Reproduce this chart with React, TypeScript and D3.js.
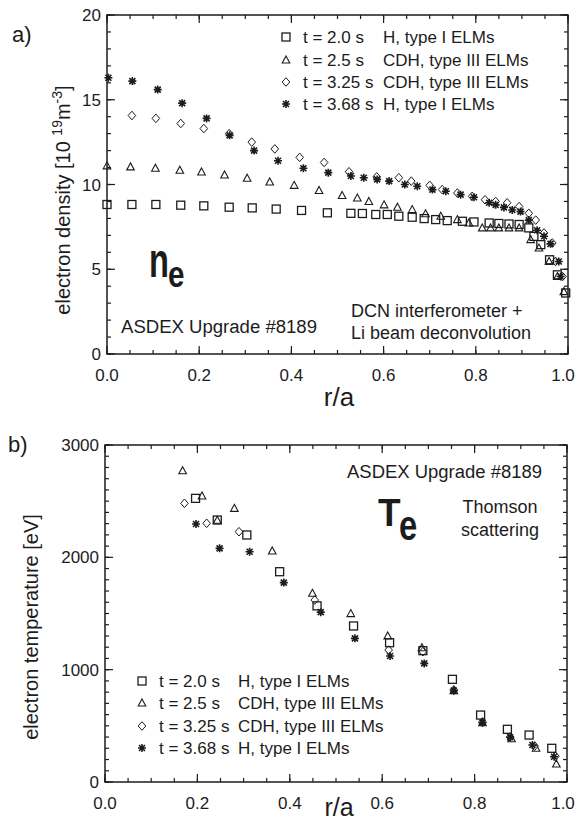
import React from 'react';
import * as d3 from 'd3';

const FONT = '"Liberation Sans", Arial, Helvetica, sans-serif';
const INK = '#1c1c1c';

// legend
const legendTimes = ['t = 2.0 s', 't = 2.5 s', 't = 3.25 s', 't = 3.68 s'];
const legendModes = ['H, type I ELMs', 'CDH, type III ELMs', 'CDH, type III ELMs', 'H, type I ELMs'];
const seriesShapes = ['square', 'triangle', 'diamond', 'star'];

// axis ticks
const xMajor = [0, 0.2, 0.4, 0.6, 0.8, 1.0];
const xTickLabels = ['0.0', '0.2', '0.4', '0.6', '0.8', '1.0'];
const neMajor = [0, 5, 10, 15, 20];
const teMajor = [0, 1000, 2000, 3000];

// panel a: electron density [1e19 m^-3]
const neR_t20 = [0.0, 0.054, 0.106, 0.16, 0.21, 0.265, 0.315, 0.367, 0.422, 0.478, 0.529, 0.554, 0.583, 0.608, 0.633, 0.662, 0.688, 0.713, 0.738, 0.771, 0.796, 0.829, 0.85, 0.872, 0.894, 0.915, 0.926, 0.941, 0.96, 0.977, 0.995];
const ne_t20 = [8.82, 8.82, 8.82, 8.78, 8.74, 8.66, 8.62, 8.55, 8.47, 8.33, 8.30, 8.29, 8.23, 8.23, 8.13, 8.07, 7.99, 7.93, 7.87, 7.83, 7.79, 7.73, 7.70, 7.67, 7.64, 7.44, 6.94, 6.45, 5.56, 4.67, 3.6];

const neR_t25 = [0.0, 0.051, 0.105, 0.158, 0.205, 0.255, 0.304, 0.353, 0.406, 0.46, 0.51, 0.543, 0.568, 0.601, 0.63, 0.662, 0.691, 0.724, 0.76, 0.785, 0.814, 0.832, 0.85, 0.872, 0.894, 0.919, 0.937, 0.959, 0.977, 0.991];
const ne_t25 = [11.1, 11.04, 10.96, 10.84, 10.74, 10.56, 10.37, 10.15, 9.95, 9.65, 9.35, 9.2, 9.0, 8.8, 8.66, 8.52, 8.27, 8.13, 7.93, 7.73, 7.44, 7.44, 7.44, 7.44, 7.44, 6.75, 6.25, 5.46, 4.57, 3.68];

const neR_t325 = [0.054, 0.106, 0.16, 0.21, 0.265, 0.314, 0.364, 0.418, 0.471, 0.525, 0.585, 0.633, 0.66, 0.70, 0.727, 0.76, 0.792, 0.82, 0.843, 0.868, 0.894, 0.915, 0.93, 0.948, 0.966, 0.973, 0.988];
const ne_t325 = [14.07, 13.9, 13.6, 13.3, 13.0, 12.5, 12.1, 11.6, 11.3, 10.75, 10.45, 10.4, 10.2, 9.95, 9.7, 9.5, 9.3, 9.1, 9.0, 8.92, 8.7, 8.3, 7.9, 7.14, 6.55, 5.46, 4.57];

const neR_t368 = [0.003, 0.055, 0.11, 0.163, 0.216, 0.266, 0.319, 0.371, 0.426, 0.48, 0.529, 0.557, 0.586, 0.612, 0.646, 0.673, 0.706, 0.735, 0.767, 0.796, 0.829, 0.843, 0.861, 0.879, 0.897, 0.915, 0.933, 0.948, 0.962, 0.98, 0.984];
const ne_t368 = [16.3, 16.1, 15.6, 14.8, 13.9, 12.9, 12.0, 11.4, 10.96, 10.7, 10.5, 10.4, 10.3, 10.2, 10.0, 9.9, 9.7, 9.6, 9.4, 9.25, 8.92, 8.8, 8.65, 8.5, 8.4, 7.9, 7.3, 6.95, 6.5, 5.46, 4.57];

// panel b: electron temperature [eV]
const teR_t20 = [0.196, 0.243, 0.307, 0.378, 0.459, 0.538, 0.616, 0.688, 0.752, 0.813, 0.871, 0.918, 0.967];
const te_t20 = [2525, 2332, 2199, 1872, 1568, 1389, 1240, 1169, 914, 596, 469, 418, 300];

const teR_t25 = [0.168, 0.21, 0.243, 0.28, 0.362, 0.449, 0.532, 0.612, 0.686, 0.755, 0.817, 0.88, 0.933, 0.977];
const te_t25 = [2771, 2546, 2330, 2436, 2057, 1680, 1499, 1300, 1195, 813, 528, 385, 300, 160];

const teR_t325 = [0.172, 0.22, 0.29, 0.454, 0.614, 0.688, 0.755, 0.817, 0.877, 0.93, 0.975];
const te_t325 = [2481, 2303, 2228, 1620, 1175, 1160, 820, 535, 400, 320, 230];

const teR_t368 = [0.197, 0.248, 0.313, 0.387, 0.467, 0.541, 0.617, 0.691, 0.755, 0.817, 0.877, 0.925, 0.972];
const te_t368 = [2297, 2080, 2050, 1775, 1512, 1279, 1122, 1056, 813, 528, 398, 329, 225];

const neSeries = [
  { r: neR_t20, v: ne_t20 },
  { r: neR_t25, v: ne_t25 },
  { r: neR_t325, v: ne_t325 },
  { r: neR_t368, v: ne_t368 },
];
const teSeries = [
  { r: teR_t20, v: te_t20 },
  { r: teR_t25, v: te_t25 },
  { r: teR_t325, v: te_t325 },
  { r: teR_t368, v: te_t368 },
];

function Marker({ shape, x, y }: { shape: string; x: number; y: number }) {
  const common = { fill: 'none', stroke: INK, strokeWidth: 1.3 };
  if (shape === 'square') return <rect x={x - 4} y={y - 4} width={8} height={8} {...common} />;
  if (shape === 'triangle')
    return <path d={`M${x},${y - 4} L${x + 3.8},${y + 3} L${x - 3.8},${y + 3} Z`} {...common} strokeWidth={1.1} />;
  if (shape === 'diamond')
    return <path d={`M${x},${y - 4.3} L${x + 3.8},${y} L${x},${y + 4.3} L${x - 3.8},${y} Z`} {...common} strokeWidth={1.0} />;
  const s = 4;
  const d = s * 0.75;
  return (
    <path
      d={`M${x},${y - s} L${x},${y + s} M${x - d},${y - d} L${x + d},${y + d} M${x - d},${y + d} L${x + d},${y - d} M${x - s},${y} L${x + s},${y}`}
      stroke={INK}
      strokeWidth={1.6}
      fill="none"
    />
  );
}

function Frame({ xs, ys, yMajor, yMinorStep, yFmt }: any) {
  const [x0, x1] = xs.range();
  const [yb, yt] = ys.range();
  const xMinor = d3.range(0, 1.0001, 0.05);
  const yDom = ys.domain();
  const yMinor = d3.range(yDom[0], yDom[1] + 1e-6, yMinorStep);
  const ML = 8, mL = 4;
  const els: any[] = [];
  xMinor.forEach((t, i) => {
    const X = xs(t);
    els.push(<line key={'xb' + i} x1={X} x2={X} y1={yb} y2={yb - mL} />);
    els.push(<line key={'xt' + i} x1={X} x2={X} y1={yt} y2={yt + mL} />);
  });
  xMajor.forEach((t, i) => {
    const X = xs(t);
    els.push(<line key={'Xb' + i} x1={X} x2={X} y1={yb} y2={yb - ML} />);
    els.push(<line key={'Xt' + i} x1={X} x2={X} y1={yt} y2={yt + ML} />);
  });
  yMinor.forEach((t, i) => {
    const Y = ys(t);
    els.push(<line key={'yl' + i} x1={x0} x2={x0 + mL} y1={Y} y2={Y} />);
    els.push(<line key={'yr' + i} x1={x1} x2={x1 - mL} y1={Y} y2={Y} />);
  });
  yMajor.forEach((t: number, i: number) => {
    const Y = ys(t);
    els.push(<line key={'Yl' + i} x1={x0} x2={x0 + ML} y1={Y} y2={Y} />);
    els.push(<line key={'Yr' + i} x1={x1} x2={x1 - ML} y1={Y} y2={Y} />);
  });
  return (
    <g>
      <g stroke={INK} strokeWidth={1.2}>{els}</g>
      <rect x={x0} y={yt} width={x1 - x0} height={yb - yt} fill="none" stroke={INK} strokeWidth={1.5} />
      <g fontFamily={FONT} fontSize={17} fill={INK}>
        {xMajor.map((t, i) => (
          <text key={'xl' + i} x={Math.min(xs(t), 563)} y={yb + 27} textAnchor="middle">
            {xTickLabels[i]}
          </text>
        ))}
        {yMajor.map((t: number, i: number) => (
          <text key={'yl' + i} x={x0 - 6} y={ys(t) + 6} textAnchor="end">
            {yFmt(t)}
          </text>
        ))}
      </g>
    </g>
  );
}

function Legend({ mx, tx, dx, ys }: { mx: number; tx: number; dx: number; ys: number[] }) {
  return (
    <g fontFamily={FONT} fontSize={17} fill={INK}>
      {legendTimes.map((t, i) => (
        <g key={i}>
          <Marker shape={seriesShapes[i]} x={mx} y={ys[i]} />
          <text x={tx} y={ys[i] + 6}>{t}</text>
          <text x={dx} y={ys[i] + 6}>{legendModes[i]}</text>
        </g>
      ))}
    </g>
  );
}

export default function App() {
  const xa = d3.scaleLinear().domain([0, 1]).range([107, 568]);
  const ya = d3.scaleLinear().domain([0, 20]).range([354, 15]);
  const xb = d3.scaleLinear().domain([0, 1]).range([105, 567]);
  const yb = d3.scaleLinear().domain([0, 3000]).range([782, 445]);

  return (
    <svg width={577} height={824} style={{ position: 'absolute', left: 0, top: 0, background: '#fff' }}>
      <rect x={0} y={0} width={577} height={824} fill="#fff" />
      {/* Panel a */}
      <text x={12} y={42} fontFamily={FONT} fontSize={22} fill={INK}>a)</text>
      <text
        transform="translate(70,200) rotate(-90)"
        textAnchor="middle"
        fontFamily={FONT}
        fontSize={20}
        fill={INK}
      >
        electron density [10 <tspan fontSize={14} dy={-8}>19</tspan>
        <tspan dy={8}>m</tspan>
        <tspan fontSize={14} dy={-8}>-3</tspan>
        <tspan dy={8}>]</tspan>
      </text>
      <Frame xs={xa} ys={ya} yMajor={neMajor} yMinorStep={1} yFmt={(t: number) => String(t)} />
      <text x={339} y={406} textAnchor="middle" fontFamily={FONT} fontSize={26} fill={INK}>r/a</text>
      <Legend mx={286} tx={303} dx={383} ys={[37, 60, 82, 104]} />
      <text transform="translate(149,277) scale(0.68,1)" fontFamily={FONT} fontWeight="bold" fontSize={48} fill={INK}>n</text>
      <text transform="translate(168,287) scale(0.8,1)" fontFamily={FONT} fontWeight="bold" fontSize={37} fill={INK}>e</text>
      <text x={121} y={333} fontFamily={FONT} fontSize={18} fill={INK} textLength={196} lengthAdjust="spacingAndGlyphs">ASDEX Upgrade #8189</text>
      <text x={351} y={317} fontFamily={FONT} fontSize={18} fill={INK}>DCN interferometer +</text>
      <text x={351} y={339} fontFamily={FONT} fontSize={18} fill={INK}>Li beam deconvolution</text>
      {neSeries.map((s, si) =>
        s.r.map((r, i) => <Marker key={`a${si}-${i}`} shape={seriesShapes[si]} x={xa(r)} y={ya(s.v[i])} />)
      )}

      {/* Panel b */}
      <text x={8} y={452} fontFamily={FONT} fontSize={22} fill={INK}>b)</text>
      <text
        transform="translate(38,627) rotate(-90)"
        textAnchor="middle"
        fontFamily={FONT}
        fontSize={20}
        fill={INK}
      >
        electron temperature [eV]
      </text>
      <Frame xs={xb} ys={yb} yMajor={teMajor} yMinorStep={100} yFmt={(t: number) => String(t)} />
      <text x={339} y={816} textAnchor="middle" fontFamily={FONT} fontSize={25} fill={INK}>r/a</text>
      <Legend mx={142} tx={159} dx={238} ys={[681, 703, 726, 748]} />
      <text x={347} y={478} fontFamily={FONT} fontSize={18} fill={INK} textLength={195} lengthAdjust="spacingAndGlyphs">ASDEX Upgrade #8189</text>
      <text transform="translate(378,526) scale(0.95,1)" fontFamily={FONT} fontWeight="bold" fontSize={39} fill={INK}>T</text>
      <text transform="translate(399,540) scale(0.78,1)" fontFamily={FONT} fontWeight="bold" fontSize={42} fill={INK}>e</text>
      <text x={500} y={513} textAnchor="middle" fontFamily={FONT} fontSize={18} fill={INK}>Thomson</text>
      <text x={500} y={536} textAnchor="middle" fontFamily={FONT} fontSize={18} fill={INK}>scattering</text>
      {teSeries.map((s, si) =>
        s.r.map((r, i) => <Marker key={`b${si}-${i}`} shape={seriesShapes[si]} x={xb(r)} y={yb(s.v[i])} />)
      )}
    </svg>
  );
}
